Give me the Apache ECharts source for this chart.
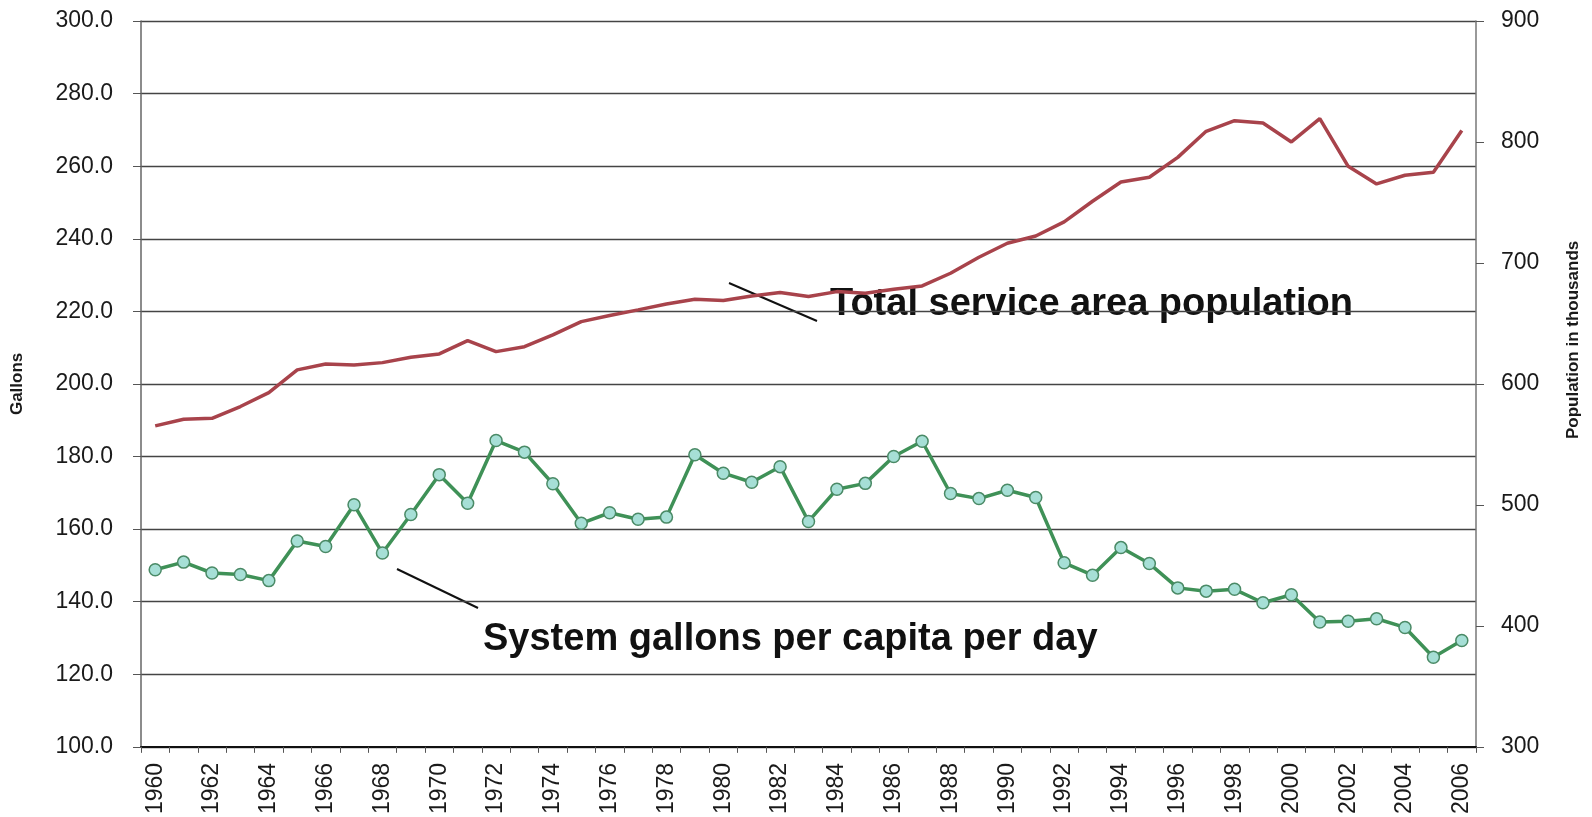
<!DOCTYPE html>
<html>
<head>
<meta charset="utf-8">
<title>Gallons per capita and service area population, 1960-2006</title>
<script src="https://cdn.jsdelivr.net/npm/echarts@6/dist/echarts.min.js"></script>
<style>
  html, body { margin: 0; padding: 0; background: #ffffff; }
  #chart { width: 1592px; height: 817px; }
</style>
</head>
<body>
<div id="chart"></div>
<script>
// Years on the category axis
const years = [];
for (let y = 1960; y <= 2006; y++) years.push(String(y));

// System gallons per capita per day (left axis)
const gallonsPerCapita = [
  148.8, 150.9, 147.9, 147.5, 145.8, 156.7, 155.2, 166.7, 153.4, 164.0,
  175.0, 167.1, 184.4, 181.2, 172.5, 161.6, 164.5, 162.7, 163.3, 180.5,
  175.4, 172.9, 177.2, 162.1, 171.0, 172.6, 180.0, 184.2, 169.8, 168.4,
  170.7, 168.7, 150.7, 147.3, 154.9, 150.5, 143.8, 142.9, 143.4, 139.7,
  141.9, 134.4, 134.6, 135.3, 132.9, 124.7, 129.3
];

// Total service area population, thousands (right axis)
const population = [
  565.3, 570.8, 571.6, 581.3, 592.8, 611.6, 616.5, 615.7, 617.6, 622.0,
  624.8, 635.8, 626.7, 630.8, 640.5, 651.5, 656.5, 661.2, 666.1, 670.0,
  668.9, 672.7, 675.5, 672.2, 676.3, 675.0, 678.3, 681.0, 691.5, 704.7,
  716.3, 722.3, 733.9, 751.0, 766.9, 770.8, 787.3, 808.8, 817.6, 815.7,
  800.0, 819.3, 779.9, 765.3, 772.5, 774.9, 809.4
];

const FONT = "'Liberation Sans', Arial, sans-serif";
const NOTE_FONT = "bold 38px 'Liberation Sans', Arial, sans-serif";

const chart = echarts.init(document.getElementById('chart'), null, { renderer: 'canvas' });

const option = {
  backgroundColor: '#ffffff',
  animation: false,
  grid: { left: 141, right: 116, top: 21, bottom: 70 },
  xAxis: {
    type: 'category',
    data: years,
    boundaryGap: true,
    axisLine: { show: true, lineStyle: { color: '#111', width: 2 } },
    axisTick: { show: true, interval: 0, length: 6, lineStyle: { color: '#555' } },
    axisLabel: {
      interval: 1, rotate: 90, margin: 16,
      fontFamily: FONT, fontSize: 23, color: '#1a1a1a'
    },
    splitLine: { show: false }
  },
  yAxis: [
    {
      type: 'value',
      min: 100, max: 300, interval: 20,
      name: 'Gallons',
      nameLocation: 'middle', nameRotate: 90, nameGap: 115,
      nameTextStyle: { fontFamily: FONT, fontSize: 17, fontWeight: 'bold', color: '#1a1a1a' },
      axisLine: { show: true, lineStyle: { color: '#666', width: 1.5 } },
      axisTick: { show: true, length: 8, lineStyle: { color: '#555' } },
      axisLabel: {
        margin: 28, fontFamily: FONT, fontSize: 23, color: '#1a1a1a',
        formatter: v => v.toFixed(1)
      },
      splitLine: { show: true, lineStyle: { color: '#444', width: 1.3 } }
    },
    {
      type: 'value',
      min: 300, max: 900, interval: 100,
      position: 'right',
      name: 'Population in thousands',
      nameLocation: 'middle', nameRotate: 90, nameGap: 89,
      nameTextStyle: {
        fontFamily: FONT, fontSize: 17, fontWeight: 'bold', color: '#1a1a1a',
        padding: [0, 0, 0, 88]
      },
      axisLine: { show: true, lineStyle: { color: '#777', width: 1.5 } },
      axisTick: { show: true, length: 8, inside: false, lineStyle: { color: '#555' } },
      axisLabel: { margin: 25, fontFamily: FONT, fontSize: 23, color: '#1a1a1a' },
      splitLine: { show: false }
    }
  ],
  series: [
    {
      name: 'Total service area population',
      type: 'line',
      yAxisIndex: 1,
      data: population,
      showSymbol: false,
      symbol: 'none',
      lineStyle: { color: '#a8434b', width: 3.5 },
      z: 3
    },
    {
      name: 'System gallons per capita per day',
      type: 'line',
      yAxisIndex: 0,
      data: gallonsPerCapita,
      symbol: 'circle',
      symbolSize: 12,
      lineStyle: { color: '#3f9157', width: 3.5 },
      itemStyle: { color: '#a6dfd6', borderColor: '#4a8a66', borderWidth: 1.5 },
      z: 4
    }
  ],
  graphic: [
    // Leader line and label for the population series
    { type: 'line', shape: { x1: 729, y1: 283, x2: 817, y2: 321 },
      style: { stroke: '#111', lineWidth: 2 } },
    { type: 'text', left: 830, top: 286,
      style: { text: 'Total service area population', font: NOTE_FONT, fill: '#111' } },
    // Leader line and label for the per-capita series
    { type: 'line', shape: { x1: 397, y1: 569, x2: 478, y2: 608 },
      style: { stroke: '#111', lineWidth: 2 } },
    { type: 'text', left: 483, top: 621,
      style: { text: 'System gallons per capita per day', font: NOTE_FONT, fill: '#111' } }
  ]
};

chart.setOption(option);
</script>
</body>
</html>
